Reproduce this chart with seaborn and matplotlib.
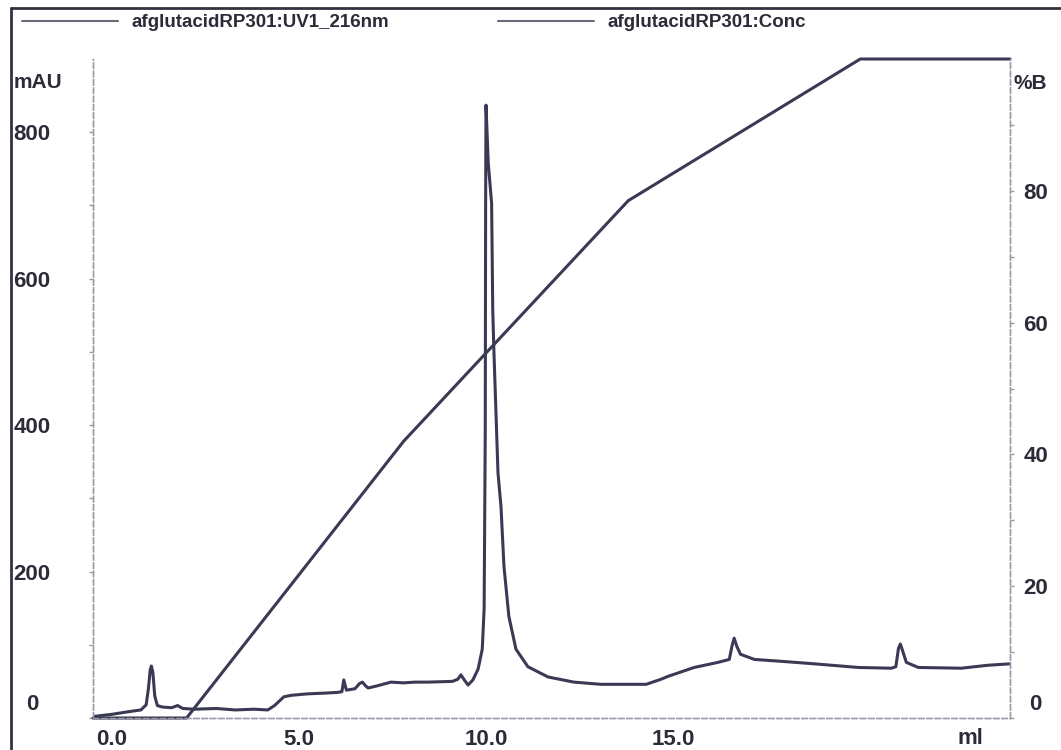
import numpy as np
import pandas as pd
import matplotlib
matplotlib.use("Agg")
import matplotlib.pyplot as plt
from matplotlib.lines import Line2D
import seaborn as sns

# ---------------- data ----------------
uv_ml = [-0.5, 0.0, 0.5, 0.78, 0.92, 0.98, 1.03, 1.06, 1.10, 1.15, 1.22, 1.35, 1.6, 1.76, 1.9,
         2.2, 2.8, 3.3, 3.8, 4.17, 4.35, 4.6, 4.8, 5.24, 5.7, 6.04, 6.15, 6.2, 6.27, 6.5,
         6.62, 6.7, 6.78, 6.85, 7.1, 7.46, 7.8, 8.1, 8.45, 9.1, 9.25, 9.33, 9.42, 9.52, 9.65,
         9.79, 9.9, 9.95, 9.98, 9.99, 10.0, 10.06, 10.15, 10.18, 10.21, 10.32, 10.4, 10.48,
         10.61, 10.8, 11.12, 11.66, 12.35, 13.07, 13.7, 14.28, 14.68, 14.87, 15.56, 16.2,
         16.5, 16.58, 16.63, 16.7, 16.8, 17.17, 18.0, 18.77, 19.95, 20.83, 20.95, 21.02,
         21.07, 21.13, 21.23, 21.55, 22.7, 23.4, 24.0]
uv_mau = [2, 5, 9, 11, 18, 40, 66, 71, 62, 30, 17, 15, 14, 17, 13,
          12, 13, 11, 12, 11, 17, 29, 31, 33, 34, 35, 36, 52, 38, 40,
          47, 49, 44, 41, 44, 49, 48, 49, 49, 50, 53, 59, 52, 45, 52,
          67, 94, 149, 390, 700, 837, 758, 703, 558, 503, 335, 289, 207,
          139, 94, 70, 56, 49, 46, 46, 46, 53, 57, 69, 76,
          80, 100, 109, 98, 87, 80, 77, 74, 69, 68, 70, 95,
          101, 92, 76, 69, 68, 72, 74]

conc_ml = [-0.5, 2.0, 7.8, 13.8, 20.0, 24.0]
conc_pct = [0, 0, 42, 78.5, 100, 100]

x_ticks = [0, 5, 10, 15]
x_tick_labels = ["0.0", "5.0", "10.0", "15.0"]
left_ticks = [0, 200, 400, 600, 800]
right_ticks = [0, 20, 40, 60, 80]

uv_label = "afglutacidRP301:UV1_216nm"
conc_label = "afglutacidRP301:Conc"

# ---------------- style ----------------
sns.set_style("white")
plt.rcParams["font.family"] = ["Liberation Sans", "DejaVu Sans"]
plt.rcParams["font.weight"] = "bold"

trace_col = "#3a3a55"
text_col = "#2c2c38"
axis_col = "#9a9aa8"

W, H = 1061, 750
fig = plt.figure(figsize=(W / 100, H / 100), dpi=100)
L, R, B, T = 93, 1010, 718, 59
ax = fig.add_axes([L / W, 1 - B / H, (R - L) / W, (B - T) / H])
ax2 = ax.twinx()

uv_df = pd.DataFrame({"ml": uv_ml, "mAU": uv_mau})
conc_df = pd.DataFrame({"ml": conc_ml, "pct": conc_pct})

sns.lineplot(data=uv_df, x="ml", y="mAU", ax=ax, color=trace_col, lw=2.2,
             estimator=None, sort=False)
sns.lineplot(data=conc_df, x="ml", y="pct", ax=ax2, color=trace_col, lw=2.2,
             estimator=None, sort=False, clip_on=False)

ax.set_xlim(-0.5, 24.0)
ax.set_ylim(0, 900)
ax2.set_ylim(0, 100)

for a in (ax, ax2):
    for s in a.spines.values():
        s.set_color(axis_col)
        s.set_linewidth(1.0)
        s.set_linestyle((0, (4, 2)))
    a.spines["top"].set_visible(False)

# ticks
ax.set_xticks(x_ticks)
ax.set_xticklabels(x_tick_labels)
ax.set_yticks(left_ticks)
ax.set_yticklabels([""] + [str(v) for v in left_ticks[1:]])
ax.set_yticks(np.arange(100, 900, 200), minor=True)
ax2.set_yticks(right_ticks)
ax2.set_yticklabels([""] + [str(v) for v in right_ticks[1:]])
ax2.set_yticks(np.arange(10, 100, 20), minor=True)

ax.tick_params(axis="x", length=0, pad=8, labelsize=16, labelcolor=text_col)
ax.tick_params(axis="y", which="both", length=3, width=1, color=axis_col,
               pad=41, labelsize=16, labelcolor=text_col, left=True)
ax2.tick_params(axis="y", which="both", length=3, width=1, color=axis_col,
                pad=15.5, labelsize=16, labelcolor=text_col, right=True)
for lab in ax.get_yticklabels():
    lab.set_ha("center")
    lab.set_fontweight("bold")
for lab in ax2.get_yticklabels():
    lab.set_ha("center")
    lab.set_fontweight("bold")
for lab in ax.get_xticklabels():
    lab.set_fontweight("bold")

# zero labels, lifted slightly as in the reference
ax.annotate("0", xy=(0, 0), xycoords=("axes fraction", "data"),
            xytext=(-44, 10), textcoords="offset points", ha="center", va="center",
            fontsize=16, fontweight="bold", color=text_col, annotation_clip=False)
ax2.annotate("0", xy=(1, 0), xycoords=("axes fraction", "data"),
             xytext=(18.5, 10), textcoords="offset points", ha="center", va="center",
             fontsize=16, fontweight="bold", color=text_col, annotation_clip=False)

# axis unit labels
ax.set_ylabel("mAU", rotation=0, fontsize=15, fontweight="bold", color=text_col,
              ha="center", va="center")
ax.yaxis.set_label_coords((38 - L) / (R - L), (B - 83) / (B - T))
ax2.set_ylabel("%B", rotation=0, fontsize=15, fontweight="bold", color=text_col,
               ha="center", va="center")
ax2.yaxis.set_label_coords((1030 - L) / (R - L), (B - 83) / (B - T))
ax.set_xlabel("ml", fontsize=16, fontweight="bold", color=text_col,
              ha="center", va="center")
ax.xaxis.set_label_coords((970 - L) / (R - L), -(738 - B) / (B - T))

# legend
handles = [Line2D([], [], color="#6a6a7a", lw=1.5),
           Line2D([], [], color="#6a6a7a", lw=1.5)]
fig.legend(handles, [uv_label, conc_label], loc="upper left",
           bbox_to_anchor=(22 / W, 1 - 14 / H), ncol=2, frameon=False,
           handlelength=5.1, handletextpad=0.75, columnspacing=5.8,
           borderpad=0, borderaxespad=0,
           prop={"size": 13.5, "weight": "bold"}, labelcolor=text_col)

# outer frame lines of the printout
fig.add_artist(Line2D([11 / W, 1.0], [1 - 8 / H, 1 - 8 / H], transform=fig.transFigure,
                      color="#33333f", lw=2))
fig.add_artist(Line2D([11 / W, 11 / W], [0, 1 - 8 / H], transform=fig.transFigure,
                      color="#33333f", lw=2))

fig.savefig("out.png", dpi=100, facecolor="white")
